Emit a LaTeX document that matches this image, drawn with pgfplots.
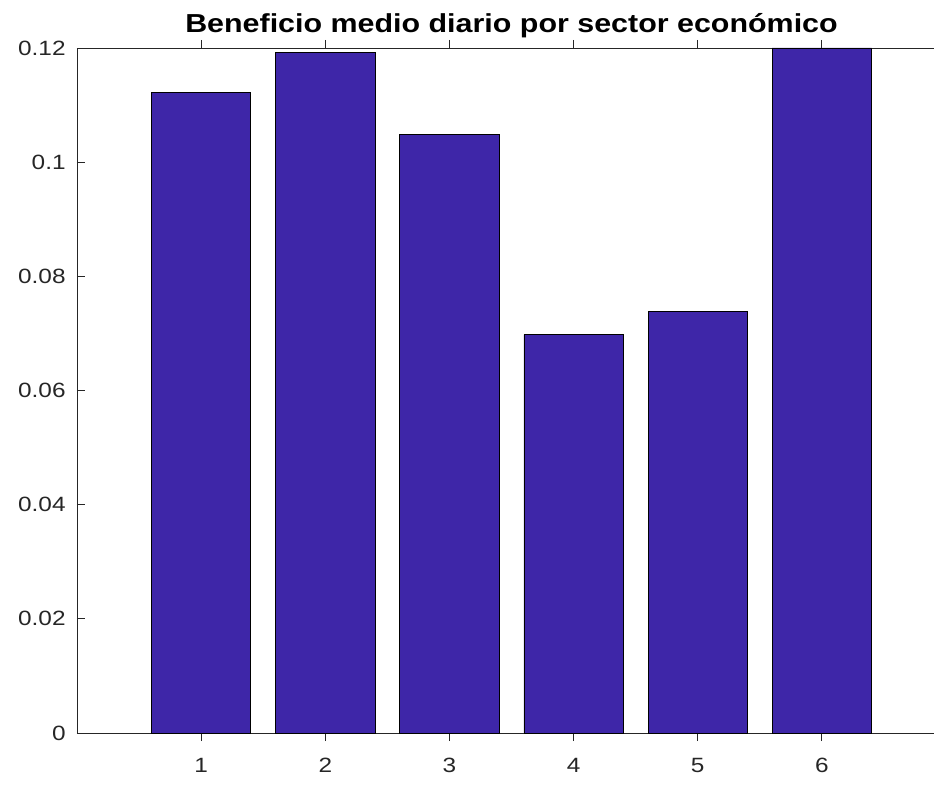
\documentclass[border=0pt]{standalone}
\usepackage{fontspec}
\setmainfont{Liberation Sans}
\newfontfamily\tickfont[FakeStretch=1.18]{Liberation Sans}
\newfontfamily\titlefont[FakeStretch=1.17]{Liberation Sans Bold}
\usepackage{pgfplots}
\pgfplotsset{compat=1.18}
\definecolor{barc}{RGB}{62,38,168}
\definecolor{axc}{RGB}{38,38,38}
\begin{document}
\begin{tikzpicture}
\path[use as bounding box] (-57.75pt,-39pt) rectangle (642.75pt,549.75pt);
\clip (-57.75pt,-39pt) rectangle (642.75pt,549.75pt);
\begin{axis}[
  anchor=south west, at={(0,0)},
  scale only axis,
  width=651.75pt, height=513.75pt,
  xmin=0, xmax=7, ymin=0, ymax=0.12,
  axis line style={axc, line width=0.6pt},
  tick style={axc, line width=0.6pt},
  tick align=inside,
  major tick length=6pt,
  xtick={1,2,3,4,5,6},
  ytick={0,0.02,0.04,0.06,0.08,0.1,0.12},
  yticklabels={0,0.02,0.04,0.06,0.08,0.1,0.12},
  xticklabel style={yshift=-9.5pt},
  yticklabel style={xshift=-5pt},
  tick label style={font=\tickfont\fontsize{15.5}{18}\selectfont, text=axc},
  /pgf/number format/assume math mode=true,
  title={Beneficio medio diario por sector económico},
  title style={font=\titlefont\fontsize{19.5}{22}\selectfont, at={(rel axis cs:0.5,1)}, anchor=base, yshift=5.5pt},
  ybar, bar width=0.8,
]
\addplot[fill=barc, draw=black, line width=0.6pt] coordinates {
 (1,0.1122) (2,0.1192) (3,0.1049) (4,0.0698) (5,0.0739) (6,0.1200)
};
\end{axis}
\end{tikzpicture}
\end{document}
